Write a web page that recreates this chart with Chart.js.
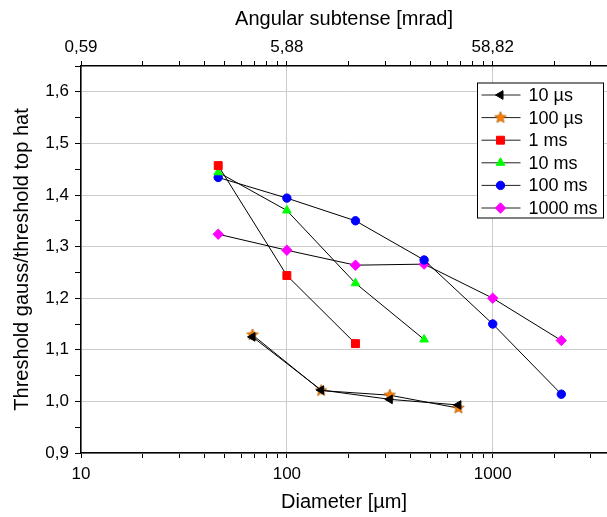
<!DOCTYPE html>
<html>
<head>
<meta charset="utf-8">
<script src="https://cdn.jsdelivr.net/npm/chart.js@4.4.1/dist/chart.umd.min.js"></script>
<style>
  html, body { margin: 0; padding: 0; background: #fff; }
</style>
</head>
<body>
<canvas id="chart" width="607" height="517"></canvas>
<script>
let seriesNames = ['10 µs', '100 µs', '1 ms', '10 ms', '100 ms', '1000 ms'];
let diamShort = [68.1, 146.8, 316.2, 681.3];
let diamLong = [46.4, 100, 215.4, 464.2, 1000, 2154];
let y10us = [1.125, 1.022, 1.004, 0.993];
let y100us = [1.129, 1.021, 1.012, 0.987];
let y1ms = [1.457, 1.244, 1.112];
let y10ms = [1.444, 1.370, 1.229, 1.120];
let y100ms = [1.434, 1.394, 1.350, 1.274, 1.150, 1.014];
let y1000ms = [1.324, 1.293, 1.264, 1.266, 1.200, 1.118];
let xTicks = [10, 20, 30, 40, 50, 60, 70, 80, 90, 100, 200, 300, 400, 500, 600, 700, 800, 900, 1000, 2000, 3000];
let xMajor = [10, 100, 1000];
let topTickLabels = ['0,59', '5,88', '58,82'];

const FONT = "'Liberation Sans', Arial, sans-serif";
Chart.defaults.color = '#000';
Chart.defaults.font.family = FONT;

function pts(xs, ys) {
    return ys.map((y, i) => ({ x: xs[i], y: y }));
}

function makeStar(r, fill, stroke) {
    let c = document.createElement('canvas');
    let s = Math.ceil(r * 2 + 2);
    c.width = s; c.height = s;
    let g = c.getContext('2d');
    g.beginPath();
    for (let i = 0; i < 10; i++) {
        let a = -Math.PI / 2 + i * Math.PI / 5;
        let rr = i % 2 ? r * 0.45 : r;
        g.lineTo(s / 2 + rr * Math.cos(a), s / 2 + rr * Math.sin(a));
    }
    g.closePath();
    g.fillStyle = fill; g.fill();
    g.strokeStyle = stroke; g.lineWidth = 0.8; g.stroke();
    return c;
}
let starImg = makeStar(6, '#ff8000', '#b35a00');

function ds(label, data, color, style, radius, rotation) {
    return {
        label: label,
        data: data,
        showLine: true,
        borderColor: '#000',
        borderWidth: 1,
        pointBackgroundColor: color,
        pointBorderColor: color,
        pointBorderWidth: 1,
        pointStyle: style,
        pointRadius: radius,
        pointHoverRadius: radius,
        pointRotation: rotation || 0,
        markerColor: color
    };
}

let datasets = [
    ds(seriesNames[0], pts(diamShort, y10us), '#000000', 'triangle', 5, -90),
    ds(seriesNames[1], pts(diamShort, y100us), '#ff8000', starImg, 6),
    ds(seriesNames[2], pts(diamLong, y1ms), '#ff0000', 'rect', 5.6),
    ds(seriesNames[3], pts(diamLong, y10ms), '#00ff00', 'triangle', 5),
    ds(seriesNames[4], pts(diamLong, y100ms), '#0000ff', 'circle', 4.2),
    ds(seriesNames[5], pts(diamLong, y1000ms), '#ff00ff', 'rectRot', 5.2)
];

// legend drawn inside the plot, with line + marker like the original
const insideLegend = {
    id: 'insideLegend',
    afterDatasetsDraw(chart) {
        let ctx = chart.ctx;
        let area = chart.chartArea;
        let bx = area.right - 129.5, by = area.top + 17, bw = 126, bh = 135;
        ctx.save();
        ctx.fillStyle = '#fff';
        ctx.fillRect(bx, by, bw, bh);
        ctx.strokeStyle = '#000';
        ctx.lineWidth = 1;
        ctx.strokeRect(bx, by, bw, bh);
        chart.data.datasets.forEach((d, i) => {
            let cy = by + 12 + i * 22.6;
            ctx.strokeStyle = '#222';
            ctx.lineWidth = 1;
            ctx.beginPath();
            ctx.moveTo(bx + 4, cy);
            ctx.lineTo(bx + 43, cy);
            ctx.stroke();
            ctx.fillStyle = d.markerColor;
            ctx.strokeStyle = d.markerColor;
            Chart.helpers.drawPoint(ctx, {
                pointStyle: d.pointStyle,
                rotation: d.pointRotation,
                radius: d.pointRadius,
                borderWidth: 1
            }, bx + 23, cy);
            ctx.fillStyle = '#000';
            ctx.font = '18px ' + FONT;
            ctx.textBaseline = 'middle';
            ctx.textAlign = 'left';
            ctx.fillText(d.label, bx + 51, cy + 1);
        });
        ctx.restore();
    }
};

function xGridColor(c) {
    return c.tick && xMajor.includes(c.tick.value) ? '#cccccc' : 'rgba(0,0,0,0)';
}

function fitX(h) {
    return s => {
        s.height = h;
        s.paddingLeft = 0;
        s.paddingRight = 0;
    };
}

new Chart(document.getElementById('chart'), {
    type: 'scatter',
    data: { datasets: datasets },
    plugins: [insideLegend],
    options: {
        responsive: false,
        animation: false,
        layout: { padding: 0, autoPadding: false },
        plugins: {
            legend: { display: false },
            tooltip: { enabled: false }
        },
        scales: {
            x: {
                type: 'logarithmic',
                position: 'bottom',
                min: 10,
                max: 3590,
                afterBuildTicks: s => { s.ticks = xTicks.map(v => ({ value: v })); },
                afterFit: fitX(64),
                ticks: {
                    autoSkip: false,
                    maxRotation: 0,
                    padding: 6,
                    font: { size: 17 },
                    callback: v => xMajor.includes(v) ? String(v) : ''
                },
                grid: {
                    color: xGridColor,
                    tickColor: '#000',
                    tickLength: 5
                },
                border: { color: '#000', width: 1.5 },
                title: {
                    display: true,
                    text: 'Diameter [µm]',
                    font: { size: 20 },
                    padding: { top: 0, bottom: 3 }
                }
            },
            x2: {
                type: 'logarithmic',
                axis: 'x',
                position: 'top',
                min: 10,
                max: 3590,
                afterBuildTicks: s => { s.ticks = xTicks.map(v => ({ value: v })); },
                afterFit: fitX(66),
                ticks: {
                    autoSkip: false,
                    maxRotation: 0,
                    padding: 3,
                    font: { size: 17 },
                    callback: v => xMajor.includes(v) ? topTickLabels[xMajor.indexOf(v)] : ''
                },
                grid: {
                    drawOnChartArea: false,
                    tickColor: '#000',
                    tickLength: 5
                },
                border: { color: '#000', width: 1.5 },
                title: {
                    display: true,
                    text: 'Angular subtense [mrad]',
                    font: { size: 20 },
                    padding: { top: 7, bottom: 0 }
                }
            },
            y: {
                type: 'linear',
                min: 0.9,
                max: 1.65,
                afterFit: s => { s.width = 81; },
                ticks: {
                    stepSize: 0.05,
                    padding: 6,
                    font: { size: 17 },
                    callback: v => Math.round(v * 100) % 10 === 0 ? v.toFixed(1).replace('.', ',') : ''
                },
                grid: {
                    color: c => c.tick && Math.round(c.tick.value * 100) % 10 === 0 ? '#cccccc' : 'rgba(0,0,0,0)',
                    tickColor: '#000',
                    tickLength: 6
                },
                border: { color: '#000', width: 1.5 },
                title: {
                    display: true,
                    text: 'Threshold gauss/threshold top hat',
                    font: { size: 20 },
                    padding: { top: 10, bottom: 0 }
                }
            }
        }
    }
});
</script>
</body>
</html>
